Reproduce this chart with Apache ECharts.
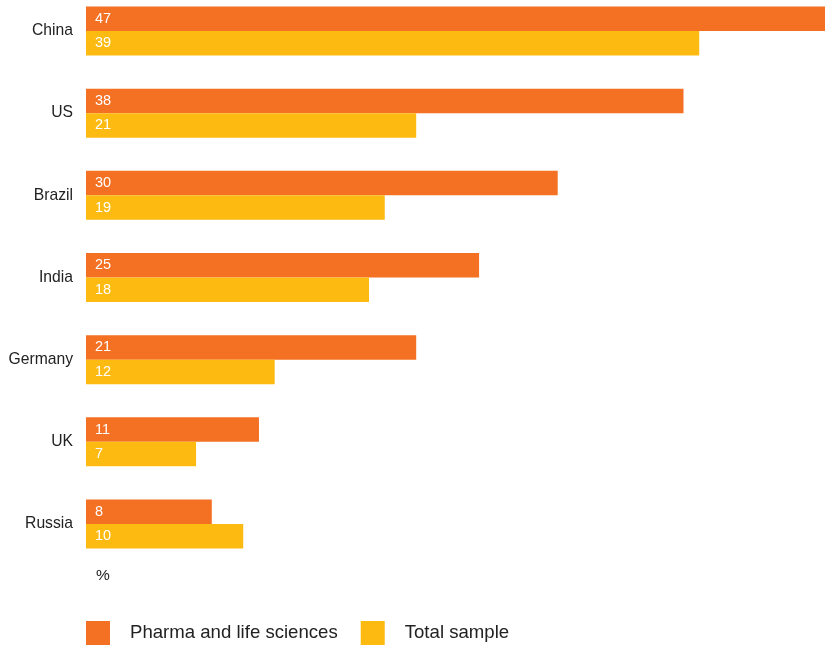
<!DOCTYPE html>
<html>
<head>
<meta charset="utf-8">
<script src="https://cdn.jsdelivr.net/npm/echarts@6/dist/echarts.min.js"></script>
<style>
  html, body { margin: 0; padding: 0; background: #fff; }
  #chart { width: 827px; height: 647px; }
</style>
</head>
<body>
<div id="chart"></div>
<script>
// Countries, top to bottom
const countries = ['China', 'US', 'Brazil', 'India', 'Germany', 'UK', 'Russia'];
// Share of respondents (%)
const pharmaValues = [47, 38, 30, 25, 21, 11, 8];
const totalValues = [39, 21, 19, 18, 12, 7, 10];
const seriesNames = ['Pharma and life sciences', 'Total sample'];
const unitLabel = '%';

const ORANGE = '#F47023';
const YELLOW = '#FDBB12';
const FONT = 'Liberation Sans, Arial, Helvetica, sans-serif';

const chart = echarts.init(document.getElementById('chart'), null, { renderer: 'canvas' });

const labelStyle = {
  show: true,
  position: 'insideLeft',
  distance: 9,
  color: '#fff',
  fontSize: 14.5,
  fontFamily: FONT
};

chart.setOption({
  animation: false,
  backgroundColor: '#fff',
  // category ticks sit on the first and last country rows
  grid: { left: 86, top: 31, width: 739, height: 493, containLabel: false },
  xAxis: {
    type: 'value',
    min: 0,
    max: 47,
    show: false
  },
  yAxis: {
    type: 'category',
    data: countries,
    inverse: true,
    boundaryGap: false,
    axisLine: { show: false },
    axisTick: { show: false },
    splitLine: { show: false },
    axisLabel: { color: '#222', fontSize: 15.7, fontFamily: FONT, margin: 13 }
  },
  legend: {
    left: 86,
    top: 621,
    padding: 0,
    itemWidth: 24,
    itemHeight: 24,
    itemGap: 23,
    icon: 'rect',
    textStyle: { color: '#222', fontSize: 18.6, fontFamily: FONT, padding: [2, 0, 0, 15] },
    data: seriesNames
  },
  graphic: [{
    type: 'text',
    left: 96,
    top: 568,
    style: { text: unitLabel, fill: '#222', fontSize: 15.5, fontFamily: FONT }
  }],
  series: [
    {
      name: seriesNames[0],
      type: 'bar',
      data: pharmaValues,
      barWidth: 24.5,
      barGap: '0%',
      clip: false,
      itemStyle: { color: ORANGE },
      label: labelStyle
    },
    {
      name: seriesNames[1],
      type: 'bar',
      data: totalValues,
      barWidth: 24.5,
      barGap: '0%',
      clip: false,
      itemStyle: { color: YELLOW },
      label: labelStyle
    }
  ]
});
</script>
</body>
</html>
